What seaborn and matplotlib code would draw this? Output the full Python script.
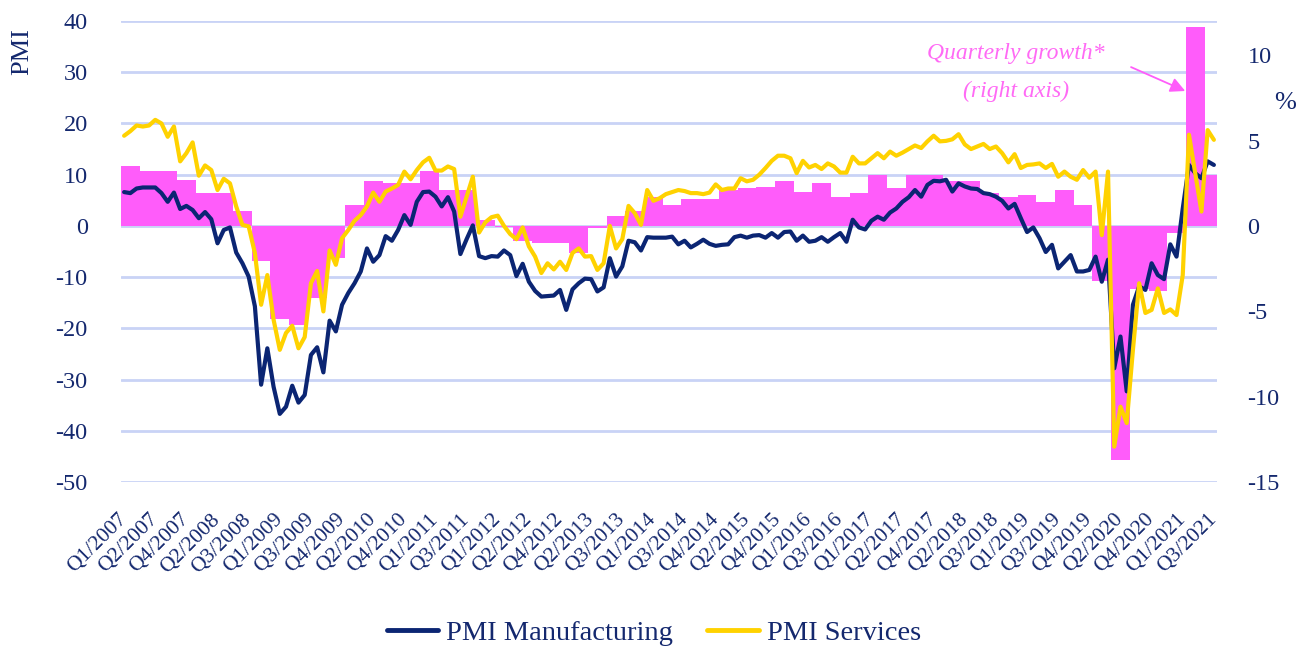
import numpy as np
import pandas as pd
import matplotlib
matplotlib.use("Agg")
import matplotlib.pyplot as plt
import seaborn as sns

# colours
NAVY = '#0B2573'
YELLOW = '#FFD200'
PINK = '#FF5CFA'
PINK_TXT = '#FF6AF5'
GRID = '#C9D3F6'
TXT = '#14286E'

# monthly PMI, Jan 2007 .. Aug 2021
pmi_manufacturing = [
    6.6, 6.4, 7.3, 7.5, 7.5, 7.5, 6.4, 4.7, 6.5, 3.3,
    3.9, 3.1, 1.5, 2.7, 1.3, -3.4, -0.8, -0.3, -5.2, -7.3,
    -9.9, -15.7, -31.0, -23.9, -31.4, -36.7, -35.3, -31.2, -34.5, -33.0,
    -25.2, -23.7, -28.6, -18.5, -20.6, -15.4, -13.1, -11.2, -8.9, -4.4,
    -7.0, -5.7, -2.0, -2.9, -0.8, 2.1, 0.2, 4.7, 6.6, 6.7,
    5.7, 3.8, 5.6, 2.8, -5.5, -2.6, 0.1, -5.9, -6.3, -5.9,
    -6.0, -4.8, -5.7, -9.8, -7.4, -10.9, -12.7, -13.8, -13.7, -13.6,
    -12.5, -16.4, -12.4, -11.2, -10.3, -10.4, -12.8, -12.0, -6.3, -9.9,
    -7.9, -2.9, -3.2, -4.8, -2.2, -2.3, -2.3, -2.3, -2.1, -3.6,
    -2.9, -4.2, -3.5, -2.7, -3.5, -3.9, -3.7, -3.6, -2.2, -1.9,
    -2.3, -1.9, -1.8, -2.3, -1.4, -2.3, -1.2, -1.1, -2.9, -1.9,
    -3.1, -2.9, -2.2, -3.1, -2.2, -1.4, -3.1, 1.2, -0.3, -0.7,
    1.0, 1.8, 1.2, 2.6, 3.4, 4.7, 5.6, 7.0, 5.7, 8.0,
    8.8, 8.7, 9.0, 6.7, 8.3, 7.7, 7.3, 7.2, 6.4, 6.2,
    5.7, 4.9, 3.4, 4.3, 1.5, -1.2, -0.3, -2.4, -5.1, -3.7,
    -8.3, -7.0, -5.7, -8.9, -8.9, -8.6, -6.0, -10.9, -6.6, -27.8,
    -21.6, -32.3, -15.4, -11.8, -12.5, -7.3, -9.6, -10.4, -3.6, -6.0,
    3.4, 11.9, 10.3, 9.3, 12.6, 11.9,
]
pmi_services = [
    17.6, 18.5, 19.6, 19.4, 19.6, 20.7, 20.0, 17.4, 19.4, 12.6,
    14.2, 16.3, 9.8, 11.8, 10.9, 7.0, 9.2, 8.3, 3.8, 0.2,
    -0.1, -5.3, -15.4, -9.6, -18.3, -24.2, -20.9, -19.5, -23.9, -21.7,
    -11.2, -8.8, -16.7, -4.8, -7.6, -2.4, -0.8, 1.0, 2.1, 3.8,
    6.5, 4.7, 6.7, 7.3, 8.0, 10.6, 9.1, 10.9, 12.4, 13.3,
    10.8, 10.8, 11.6, 11.1, 1.8, 5.7, 9.6, -1.3, 0.7, 1.7,
    2.0, 0.0, -1.6, -2.6, -0.3, -4.0, -6.0, -9.2, -7.3, -8.5,
    -7.0, -8.6, -5.3, -4.4, -6.0, -5.9, -8.6, -7.3, 0.0, -4.4,
    -2.6, 3.9, 2.5, 0.2, 7.0, 4.9, 5.4, 6.2, 6.6, 7.0,
    6.8, 6.4, 6.4, 6.2, 6.5, 8.1, 7.0, 7.3, 7.3, 9.3,
    8.7, 9.0, 10.0, 11.3, 12.7, 13.7, 13.7, 13.2, 10.3, 12.7,
    11.4, 11.9, 11.1, 12.2, 11.6, 10.4, 10.4, 13.5, 12.2, 12.2,
    13.2, 14.2, 13.2, 14.5, 13.7, 14.3, 15.0, 15.7, 15.2, 16.5,
    17.6, 16.5, 16.6, 16.9, 17.9, 15.9, 15.0, 15.5, 16.0, 15.0,
    15.5, 14.2, 12.4, 14.0, 11.3, 11.9, 12.0, 12.2, 11.3, 12.1,
    9.6, 10.6, 9.6, 9.0, 10.9, 9.4, 10.6, -1.8, 10.6, -43.1,
    -35.3, -38.5, -24.2, -11.2, -17.0, -16.4, -12.2, -17.0, -16.3, -17.4,
    -9.6, 17.8, 10.3, 2.8, 18.7, 16.8,
]

# quarterly growth (%), Q1 2007 .. Q3 2021
quarterly_growth = [
    3.5, 3.2, 3.2, 2.7, 1.9, 1.9, 0.9, -2.05, -5.45, -5.8,
    -4.2, -1.9, 1.2, 2.6, 2.5, 2.5, 3.2, 2.1, 2.1, 0.35,
    -0.05, -0.86, -1.0, -1.0, -1.6, -0.1, 0.6, 0.9, 1.7, 1.2,
    1.6, 1.6, 2.1, 2.2, 2.3, 2.6, 2.0, 2.5, 1.7, 1.9,
    3.0, 2.2, 3.0, 3.0, 2.6, 2.6, 1.9, 1.7, 1.8, 1.4,
    2.1, 1.2, -3.2, -13.7, -3.7, -3.8, -0.4, 11.65, 3.0,
]

tick_labels = [
    'Q1/2007', 'Q2/2007', 'Q4/2007', 'Q2/2008', 'Q3/2008', 'Q1/2009',
    'Q3/2009', 'Q4/2009', 'Q2/2010', 'Q4/2010', 'Q1/2011', 'Q3/2011',
    'Q1/2012', 'Q2/2012', 'Q4/2012', 'Q2/2013', 'Q3/2013', 'Q1/2014',
    'Q3/2014', 'Q4/2014', 'Q2/2015', 'Q4/2015', 'Q1/2016', 'Q3/2016',
    'Q1/2017', 'Q2/2017', 'Q4/2017', 'Q2/2018', 'Q3/2018', 'Q1/2019',
    'Q3/2019', 'Q4/2019', 'Q2/2020', 'Q4/2020', 'Q1/2021', 'Q3/2021',
]

n_months = len(pmi_manufacturing)
df = pd.DataFrame({
    'month': np.arange(n_months) + 0.5,
    'PMI Manufacturing': pmi_manufacturing,
    'PMI Services': pmi_services,
})
long = df.melt(id_vars='month', var_name='series', value_name='value')

sns.set_theme(style='white')
plt.rcParams['font.family'] = ['Liberation Serif', 'DejaVu Serif']
plt.rcParams['axes.unicode_minus'] = False

fig = plt.figure(figsize=(13.08, 6.51), dpi=100)
# left axis: grid + PMI ticks (bottom layer)
ax = fig.add_axes([121 / 1308, 1 - 482 / 651, (1217 - 121) / 1308, (482 - 21) / 651])
# right axis: quarterly growth bars
ax2 = ax.twinx()
# lines layer, same scale as left axis
ax3 = ax.twinx()
ax.set_zorder(1)
ax2.set_zorder(2)
ax3.set_zorder(3)
ax2.patch.set_visible(False)
ax3.patch.set_visible(False)

ax2.bar(np.arange(len(quarterly_growth)) * 3, quarterly_growth, width=3,
        align='edge', color=PINK, linewidth=0)
ax2.set_ylim(-15, 12)
ax2.set_yticks([-15, -10, -5, 0, 5, 10])

sns.lineplot(data=long, x='month', y='value', hue='series',
             palette={'PMI Manufacturing': NAVY, 'PMI Services': YELLOW},
             linewidth=3, ax=ax3, legend=False)

for a in (ax, ax3):
    a.set_xlim(0, n_months)
    a.set_ylim(-50, 40)
ax.set_yticks(range(-50, 41, 10))
ax.grid(axis='y', color=GRID, linewidth=2)
ax.grid(axis='x', visible=False)
ax3.set_yticks([])
ax3.set_xlabel('')
ax3.set_ylabel('')

ax.set_xticks(np.arange(0, n_months, 5) + 0.5)
ax.set_xticklabels(tick_labels, rotation=45, ha='right', va='center',
                   rotation_mode='anchor', fontsize=15.5, color=TXT)
ax.tick_params(axis='x', length=0, pad=25)
ax.tick_params(axis='y', length=0, pad=24, labelsize=17.5, labelcolor=TXT)
ax2.tick_params(axis='y', length=0, pad=22, labelsize=17.5, labelcolor=TXT)

for a in (ax, ax2, ax3):
    for s in a.spines.values():
        s.set_visible(False)

fig.text(22 / 1308, 1 - 52 / 651, 'PMI', rotation=90, ha='center', va='center',
         fontsize=19, color=TXT)
fig.text(1285 / 1308, 1 - 103 / 651, '%', ha='center', va='center',
         fontsize=19, color=TXT)

# annotation
ax2.text(143.7, 10.1, 'Quarterly growth*', style='italic', fontsize=17,
         color=PINK_TXT, ha='center', va='center')
ax2.text(143.7, 7.9, '(right axis)', style='italic', fontsize=17,
         color=PINK_TXT, ha='center', va='center')
ax2.annotate('', xy=(170.9, 7.9), xytext=(162.2, 9.3),
             arrowprops=dict(arrowstyle='-|>', color=PINK, lw=1.3,
                             mutation_scale=22, shrinkA=0, shrinkB=0))

handles = [plt.Line2D([], [], color=NAVY, lw=3.5),
           plt.Line2D([], [], color=YELLOW, lw=3.5)]
fig.legend(handles, ['PMI Manufacturing', 'PMI Services'], loc='center',
           bbox_to_anchor=(0.5, 1 - 633 / 651), ncol=2, frameon=False,
           fontsize=20.5, handlelength=1.8, handletextpad=0.3,
           columnspacing=1.2, labelcolor=TXT)

fig.savefig('out.png', dpi=100)
